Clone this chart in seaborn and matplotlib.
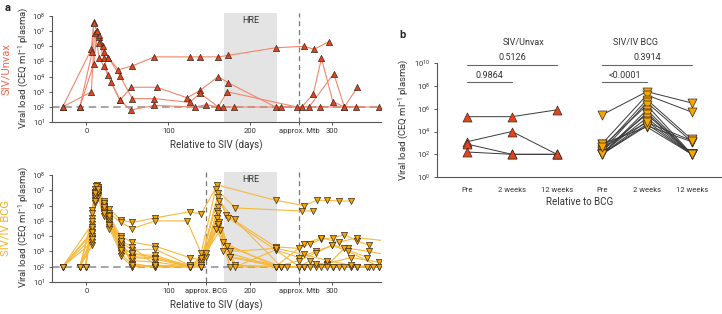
import numpy as np
import pandas as pd
import matplotlib
matplotlib.use("Agg")
import matplotlib.pyplot as plt
from matplotlib.ticker import NullLocator
import seaborn as sns

sns.set_style("ticks")
plt.rcParams["font.family"] = ["Roboto", "DejaVu Sans"]
plt.rcParams["mathtext.default"] = "regular"

# ---- panel a, SIV/Unvax animals: days since SIV and log10 viral load
UNVAX_DAYS = [
    [-29, 6, 9, 13, 16, 20, 27, 39, 56, 83, 126, 139, 161, 173, 231, 266, 278, 296],
    [-8, 7, 9, 15, 17, 21, 26, 30, 41, 55, 86, 123, 139, 161, 173, 231, 263, 277, 287, 301, 315, 329],
    [-29, 6, 10, 16, 21, 41, 54, 83, 133, 146, 161, 167, 180, 238, 272, 302, 315, 331],
    [-8, 9, 13, 16, 21, 27, 41, 56, 83, 126, 139, 161, 172, 257, 285, 357],
]
UNVAX_LOG = [
    [2, 5.8, 7.6, 7.0, 6.6, 6.0, 5.25, 4.45, 4.7, 5.3, 5.3, 5.3, 5.3, 5.4, 5.9, 6.0, 5.8, 6.3],
    [2, 5.6, 7.5, 6.75, 6.3, 5.6, 4.1, 3.65, 2.45, 3.3, 3.3, 2.6, 3.1, 4.0, 3.6, 2, 2, 2.85, 5.2, 2.35, 2, 2],
    [2, 3.0, 6.9, 5.2, 4.7, 2.45, 1.8, 2.1, 2, 2.15, 2, 2, 2, 2, 2, 4.2, 2, 3.3],
    [2, 4.85, 7.0, 6.2, 5.2, 5.25, 4.05, 2.55, 2.55, 2.3, 2.9, 2, 3.0, 2, 2, 2],
]

# ---- panel a, SIV/IV BCG animals
BCG_DAYS = [
    [-29, 7, 12, 14, 21, 28, 42, 56, 84, 126, 140, 160, 231, 266, 281, 294, 308, 323],
    [-8, 7, 10, 14, 21, 28, 42, 56, 84, 123, 140, 158, 182, 263, 277],
    [-1, 7, 10, 13, 21, 28, 42, 56, 84, 126, 140, 161, 170, 231, 260, 273, 287, 301, 315, 330, 345],
    [-29, 7, 10, 14, 21, 28, 42, 56, 84, 126, 140, 161, 173, 231, 260, 280, 300, 320, 345, 365],
    [-8, 7, 10, 14, 21, 28, 42, 56, 84, 126, 146, 162, 181, 238, 266, 294, 323, 357],
    [-1, 7, 10, 14, 21, 28, 42, 56, 84, 126, 140, 161, 167, 231, 266, 287, 308, 330, 365],
    [-29, 7, 10, 14, 21, 28, 42, 56, 84, 126, 140, 160, 172, 238, 260, 273, 294, 315, 343],
    [-8, 7, 10, 14, 21, 28, 42, 56, 84, 126, 140, 161, 175, 231, 260, 280, 301, 323, 345],
    [-1, 7, 12, 14, 21, 28, 42, 56, 84, 126, 140, 160, 182, 238, 266, 287, 308, 330],
    [-29, 7, 10, 14, 21, 28, 42, 56, 84, 126, 140, 162, 175, 245, 273, 294, 315, 343],
    [-8, 7, 10, 14, 21, 28, 42, 56, 84, 126, 140, 161, 167, 231, 260, 280, 300, 320, 357],
    [-1, 7, 10, 14, 21, 28, 42, 56, 84, 126, 146, 163, 175, 231, 266, 301, 330, 365],
    [-29, 7, 10, 14, 21, 28, 42, 56, 84, 126, 140, 158, 182, 231, 260, 280, 301, 323, 357],
    [-8, 7, 10, 14, 21, 28, 42, 56, 84, 126, 140, 161, 175, 232, 266, 294, 323, 350],
]
BCG_LOG = [
    [2, 4.8, 7.0, 7.2, 6.3, 5.8, 5.05, 4.9, 5.2, 5.6, 5.45, 7.35, 6.35, 6.0, 6.35, 6.35, 6.3, 6.3],
    [2, 5.2, 7.1, 6.9, 6.0, 5.5, 4.9, 4.5, 5.0, 5.0, 2.9, 7.1, 5.85, 5.65, 5.65],
    [2, 5.7, 6.8, 7.35, 5.8, 5.3, 4.0, 3.6, 3.35, 2.6, 2.45, 6.8, 5.4, 3.3, 3.2, 3.5, 3.8, 3.9, 4.1, 3.7, 3.4],
    [2, 4.2, 6.6, 7.0, 5.7, 5.1, 3.6, 3.1, 3.15, 2.1, 2.25, 6.55, 5.2, 3.1, 2.6, 3.0, 3.4, 3.2, 3.0, 2.8],
    [2, 3.4, 6.2, 6.9, 5.5, 4.8, 3.4, 2.8, 2.75, 2.0, 2.65, 6.3, 5.1, 2, 2, 2.2, 2.6, 2.3],
    [2, 4.5, 6.9, 7.1, 6.0, 5.2, 3.0, 2.65, 2.6, 2.0, 2.0, 5.9, 3.6, 2, 3.5, 3.9, 3.6, 3.9, 3.7],
    [2, 3.9, 6.4, 6.7, 5.9, 5.4, 2.7, 2.0, 2.1, 2.0, 2.0, 5.65, 3.35, 2, 2, 2.4, 2.1, 3.2, 2.6],
    [2, 5.0, 6.7, 7.2, 6.1, 5.0, 3.9, 2.0, 2.0, 2.0, 2.3, 5.5, 2.65, 2, 2, 2, 2, 2, 2],
    [2, 5.5, 7.3, 7.0, 5.6, 4.6, 3.3, 2.4, 2.3, 2.0, 2.1, 5.2, 2.1, 2, 2, 2, 2, 2],
    [2, 3.6, 6.5, 6.6, 5.3, 4.9, 3.2, 2.9, 2.6, 2.1, 2.0, 4.9, 2.65, 2, 2, 2, 2, 2],
    [2, 4.0, 6.9, 7.0, 6.2, 5.1, 3.5, 2.2, 2.0, 2.0, 2.0, 4.65, 3.0, 2, 2.4, 2.9, 3.4, 3.0, 2],
    [2, 4.6, 6.6, 6.8, 5.7, 4.5, 2.9, 2.1, 2.0, 2.0, 2.9, 4.4, 2.0, 2, 2, 2, 2, 2],
    [2, 4.3, 6.3, 6.9, 5.9, 5.3, 3.7, 3.3, 2.1, 2.0, 2.0, 4.5, 2.0, 3.1, 2, 2.2, 2, 2.0, 2],
    [2, 3.8, 6.8, 7.1, 5.5, 4.7, 3.1, 2.6, 2.5, 2.0, 2.6, 4.8, 3.0, 3.2, 2.8, 2.4, 2.1, 2.0],
]

# ---- panel b, log10 viral load relative to BCG
TIMEPOINTS = ["Pre", "2 weeks", "12 weeks"]
UNVAX_PRE = [5.3, 3.1, 2.9, 2.2]
UNVAX_2W = [5.3, 4.0, 2.0, 2.0]
UNVAX_12W = [5.9, 2.0, 2.0, 2.0]
BCG_PRE = [5.45, 2.9, 2.45, 2.25, 2.65, 2.0, 2.0, 2.3, 2.1, 2.0, 2.0, 2.9, 2.0, 2.6]
BCG_2W = [7.5, 7.2, 6.8, 6.55, 6.3, 5.9, 5.65, 5.5, 5.2, 4.9, 4.65, 4.4, 4.5, 4.8]
BCG_12W = [6.5, 5.7, 3.3, 3.1, 2, 2, 2, 2, 2, 2, 2, 2, 3.1, 3.2]
P_UNVAX = ["0.9864", "0.5126"]
P_BCG = ["<0.0001", "0.3914"]

HRE = (168, 233)
BCG_DAY = 146
MTB_DAY = 260

UNVAX_FILL, UNVAX_LINE, UNVAX_TEXT = "#E4441D", "#F4856B", "#F26A4D"
BCG_FILL, BCG_LINE, BCG_TEXT = "#F5A700", "#F7B83C", "#F5B125"
EDGE = "#3b2b22"
AX_COL = "#555555"


def long_table(days_list, log_list):
    rows = []
    for i, (d, v) in enumerate(zip(days_list, log_list)):
        for day, lg in zip(d, v):
            rows.append({"animal": i, "day": day, "vl": 10 ** lg})
    return pd.DataFrame(rows)


def style_axis(ax):
    sns.despine(ax=ax)
    for s in ("left", "bottom"):
        ax.spines[s].set_color(AX_COL)
        ax.spines[s].set_linewidth(0.8)
    ax.tick_params(colors=AX_COL, labelcolor="#333333", labelsize=5.5,
                   width=0.7, length=2.5, pad=2)
    ax.yaxis.set_minor_locator(NullLocator())


def timecourse(ax, df, marker, fill, line, vlines, ticks, ticklabels):
    ax.axvspan(*HRE, ymin=0, ymax=1, color="#e4e4e4", lw=0, zorder=0)
    ax.axhline(100, ls=(0, (5, 3)), color="#8c8c8c", lw=1.1, zorder=1)
    for v in vlines:
        ax.axvline(v, ls=(0, (4, 3)), color="#777777", lw=0.9, zorder=1)
    sns.lineplot(data=df, x="day", y="vl", units="animal", estimator=None,
                 color=line, lw=0.8, sort=False, ax=ax, zorder=2)
    sns.scatterplot(data=df, x="day", y="vl", marker=marker, color=fill,
                    edgecolor=EDGE, linewidth=0.5, s=20, ax=ax, zorder=3)
    ax.set_yscale("log")
    ax.set_xlim(-42, 360)
    ax.set_ylim(10, 10 ** 8.2)
    ax.set_yticks([10 ** i for i in range(1, 9)])
    ax.set_yticklabels([f"$10^{{{i}}}$" for i in range(1, 9)])
    ax.set_xticks(ticks)
    ax.set_xticklabels(ticklabels)
    style_axis(ax)
    ax.spines["left"].set_bounds(10, 1e8)
    ax.text(np.mean(HRE), 10 ** 7.72, "HRE", ha="center", va="center",
            fontsize=6.5, color="#333333")
    ax.set_xlabel("Relative to SIV (days)", fontsize=7, color="#333333", labelpad=4)
    ax.set_ylabel("Viral load (CEQ ml$^{-1}$ plasma)", fontsize=6.8, color="#333333")
    ax.yaxis.set_label_coords(-0.066, 0.5)


fig = plt.figure(figsize=(7.22, 3.14), dpi=100)

ax_u = fig.add_axes([0.072, 0.611, 0.456, 0.348])
timecourse(ax_u, long_table(UNVAX_DAYS, UNVAX_LOG), "^", UNVAX_FILL, UNVAX_LINE,
           [MTB_DAY], [0, 100, 200, MTB_DAY, 300],
           ["0", "100", "200", "approx. Mtb", "300"])

ax_c = fig.add_axes([0.072, 0.102, 0.456, 0.350])
timecourse(ax_c, long_table(BCG_DAYS, BCG_LOG), "v", BCG_FILL, BCG_LINE,
           [BCG_DAY, MTB_DAY], [0, 100, BCG_DAY, 200, MTB_DAY, 300],
           ["0", "100", "approx. BCG", "200", "approx. Mtb", "300"])

fig.text(0.008, 0.78, "SIV/Unvax", rotation=90, ha="center", va="center",
         color=UNVAX_TEXT, fontsize=8)
fig.text(0.008, 0.274, "SIV/IV BCG", rotation=90, ha="center", va="center",
         color=BCG_TEXT, fontsize=8)

# ---- panel b
ax_b = fig.add_axes([0.605, 0.436, 0.395, 0.363])
groups = [(UNVAX_PRE, UNVAX_2W, UNVAX_12W, 0, "^", UNVAX_FILL),
          (BCG_PRE, BCG_2W, BCG_12W, 3, "v", BCG_FILL)]
for pre, w2, w12, off, mk, fill in groups:
    rows = []
    for i, vals in enumerate(zip(pre, w2, w12)):
        for j, lg in enumerate(vals):
            rows.append({"animal": i, "pos": off + j, "vl": 10 ** lg})
    dfb = pd.DataFrame(rows)
    sns.lineplot(data=dfb, x="pos", y="vl", units="animal", estimator=None,
                 color="#3a3a3a", lw=0.7, sort=False, ax=ax_b, zorder=2)
    sns.scatterplot(data=dfb, x="pos", y="vl", marker=mk, color=fill,
                    edgecolor=EDGE, linewidth=0.5, s=42, ax=ax_b, zorder=3,
                    clip_on=False)

ax_b.set_yscale("log")
ax_b.set_xlim(-0.67, 5.67)
ax_b.set_ylim(1, 1e10)
ax_b.set_yticks([10 ** i for i in range(0, 11, 2)])
ax_b.set_yticklabels([f"$10^{{{i}}}$" for i in range(0, 11, 2)])
ax_b.set_xticks(range(6))
ax_b.set_xticklabels(TIMEPOINTS * 2)
style_axis(ax_b)
ax_b.tick_params(axis="x", length=0, pad=7)
ax_b.set_xlabel("Relative to BCG", fontsize=7, color="#333333", labelpad=3)
ax_b.set_ylabel("Viral load (CEQ ml$^{-1}$ plasma)", fontsize=6.8, color="#333333")
ax_b.yaxis.set_label_coords(-0.095, 0.5)

for off, pvals, title, tx in [(0, P_UNVAX, "SIV/Unvax", 1.25), (3, P_BCG, "SIV/IV BCG", 3.75)]:
    ax_b.text(tx, 10 ** 11.85, title, ha="center", va="center", fontsize=6.5, color="#333333")
    ax_b.plot([off, off + 1], [10 ** 8.33] * 2, color="#666666", lw=0.8, clip_on=False)
    ax_b.text(off + 0.5, 10 ** 8.95, pvals[0], ha="center", va="center", fontsize=6.5, color="#333333")
    ax_b.plot([off, off + 2], [10 ** 9.82] * 2, color="#666666", lw=0.8, clip_on=False)
    ax_b.text(off + 1, 10 ** 10.5, pvals[1], ha="center", va="center", fontsize=6.5, color="#333333")

fig.text(0.006, 0.975, "a", fontsize=8, fontweight="bold", va="center")
fig.text(0.553, 0.888, "b", fontsize=8, fontweight="bold", va="center")

fig.savefig("out.png", dpi=100)
